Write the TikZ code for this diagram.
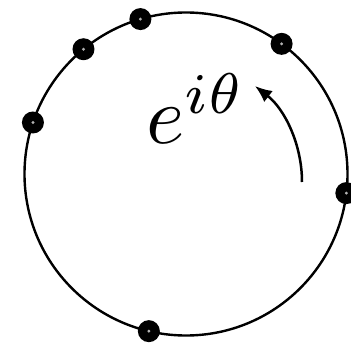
\documentclass[tikz,border=0pt]{standalone}
\usetikzlibrary{arrows.meta,calc}
\begin{document}
\begin{tikzpicture}[x=1pt,y=-1pt,
  ring/.style={line width=2.4pt},
  bead/.style={circle,fill=black,inner sep=0pt,minimum size=22pt,
    path picture={\fill[white!70!black] (path picture bounding box.center) circle (1.6pt);}},
  turn/.style={line width=2.5pt,-{Latex[length=17pt,width=14pt]}}]
\useasboundingbox (0,0) rectangle (351,345);
\coordinate (c) at (186,174);
\draw[ring] (c) circle (161.5);
\foreach \a/\n in {106.4/b1,129.4/b2,161.4/b3,53.7/b4,-6.8/b5,-103.3/b6}
  \node[bead] (\n) at ($(c)+(-\a:161.5)$) {};
\coordinate (s) at (302,182);
\draw[turn] (s) arc[start angle=0,end angle=-52.2,radius=121.5];
\node[scale=8.2,inner sep=0pt,anchor=base west] (lbl) at (145,143) {$e^{i\theta}$};
\end{tikzpicture}
\end{document}
